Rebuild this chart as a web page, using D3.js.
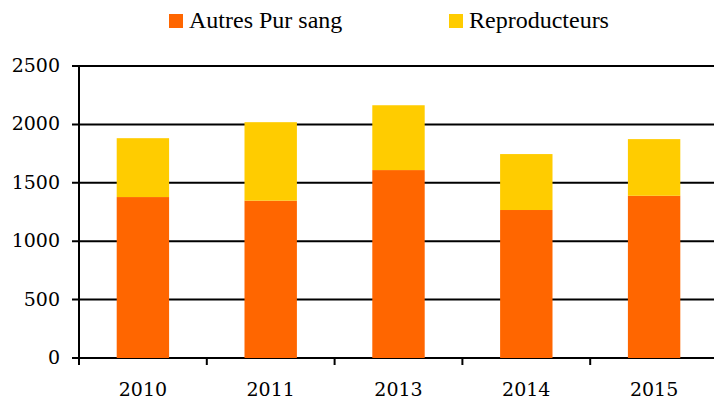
<!DOCTYPE html>
<html>
<head>
<meta charset="utf-8">
<script src="https://cdn.jsdelivr.net/npm/d3@7"></script>
<style>
  body { margin: 0; background: #fff; }
  svg { display: block; }
</style>
</head>
<body>
<svg id="chart"></svg>
<script>
const years = ['2010', '2011', '2013', '2014', '2015'];
const autresPurSang = [1378, 1347, 1609, 1267, 1389];
const reproducteurs = [504, 672, 555, 479, 485];
const yTicks = [0, 500, 1000, 1500, 2000, 2500];
const seriesNames = ['Autres Pur sang', 'Reproducteurs'];
const seriesColors = ['#ff6600', '#ffcc00'];

const W = 714;
const H = 401;
const margin = { top: 66, right: -4, bottom: 43, left: 79 };
const tickFont = '"DejaVu Serif", serif';
const legendFont = '"Liberation Serif", serif';

const svg = d3.select('#chart').attr('width', W).attr('height', H);

const x = d3.scaleBand()
  .domain(years)
  .range([margin.left, W - margin.right]);

const y = d3.scaleLinear()
  .domain([0, 2500])
  .range([H - margin.bottom, margin.top]);

// stacked rows built from the series arrays
const rows = years.map((year, i) => ({
  year,
  autres: autresPurSang[i],
  repro: reproducteurs[i]
}));
const stack = d3.stack().keys(['autres', 'repro'])(rows);

// gridlines + y ticks
const grid = svg.append('g');
grid.selectAll('line.grid').data(yTicks)
  .enter().append('line')
  .attr('class', 'grid')
  .attr('x1', margin.left - 7)
  .attr('x2', W)
  .attr('y1', d => y(d))
  .attr('y2', d => y(d))
  .attr('stroke', '#000')
  .attr('stroke-width', 2);

grid.selectAll('text').data(yTicks)
  .enter().append('text')
  .style('font-family', tickFont)
  .style('font-size', '19px')
  .attr('x', 60)
  .attr('y', d => y(d) + 6)
  .attr('text-anchor', 'end')
  .text(d => d);

// bars
const barW = x.bandwidth() * 0.41;
svg.selectAll('g.series').data(stack)
  .enter().append('g')
  .attr('class', 'series')
  .attr('fill', (d, i) => seriesColors[i])
  .selectAll('rect').data(d => d)
  .enter().append('rect')
  .attr('x', d => x(d.data.year) + (x.bandwidth() - barW) / 2)
  .attr('width', barW)
  .attr('y', d => y(d[1]))
  .attr('height', d => y(d[0]) - y(d[1]));

// axes lines
const axis = svg.append('g');
axis.append('line')
  .attr('x1', margin.left).attr('x2', margin.left)
  .attr('y1', y(2500)).attr('y2', y(0) + 7)
  .attr('stroke', '#000').attr('stroke-width', 2);

axis.selectAll('line.xtick').data(years)
  .enter().append('line')
  .attr('class', 'xtick')
  .attr('x1', d => x(d)).attr('x2', d => x(d))
  .attr('y1', y(0)).attr('y2', y(0) + 7)
  .attr('stroke', '#000').attr('stroke-width', 2);

axis.selectAll('text').data(years)
  .enter().append('text')
  .style('font-family', tickFont)
  .style('font-size', '19px')
  .attr('x', d => x(d) + x.bandwidth() / 2)
  .attr('y', 396)
  .attr('text-anchor', 'middle')
  .text(d => d);

// legend
const legendX = [169, 449];
const legend = svg.selectAll('g.legend').data(seriesNames)
  .enter().append('g')
  .attr('class', 'legend')
  .attr('transform', (d, i) => `translate(${legendX[i]},14)`);

legend.append('rect')
  .attr('width', 14).attr('height', 14)
  .attr('fill', (d, i) => seriesColors[i]);

legend.append('text')
  .style('font-family', legendFont)
  .style('font-size', '24px')
  .attr('x', 20)
  .attr('y', 14)
  .text(d => d);
</script>
</body>
</html>
